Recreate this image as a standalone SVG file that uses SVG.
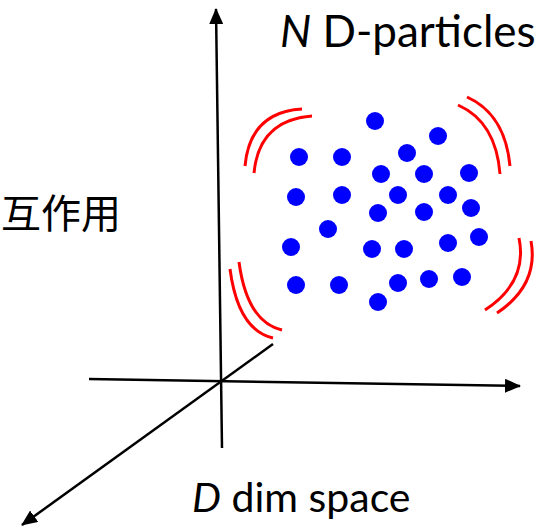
<svg xmlns="http://www.w3.org/2000/svg" width="545" height="529" viewBox="0 0 545 529">
<style>
.axis{stroke:#000;stroke-width:2.5;fill:none}
.arc{stroke:#ff0000;stroke-width:3;fill:none;stroke-linecap:butt}
.dot{fill:#0000ff}
.lbl{font-family:Lato,"Liberation Sans",sans-serif;font-size:44px;fill:#000}
.cjk{font-family:"Noto Sans CJK JP","Noto Sans CJK SC",sans-serif;font-size:40px;fill:#000}
</style>
<defs>
<marker id="ah" markerUnits="userSpaceOnUse" markerWidth="16" markerHeight="14" refX="15" refY="7" orient="auto">
<path d="M0,0 L16,7 L0,14 Z" fill="#000"/>
</marker>
</defs>
<g id="connectors">
<line class="axis" x1="222" y1="448" x2="216" y2="9" marker-end="url(#ah)"/>
<line class="axis" x1="89" y1="379" x2="520" y2="386" marker-end="url(#ah)"/>
<line class="axis" x1="273" y1="344" x2="22" y2="525" marker-end="url(#ah)"/>
</g>
<g id="arcs">
<path class="arc" d="M245,166 Q250,112 302,109"/>
<path class="arc" d="M254,173 Q259,120 312,116"/>
<path class="arc" d="M467,97 Q505,114 510,166"/>
<path class="arc" d="M458,105 Q496,122 500,174"/>
<path class="arc" d="M519,238 Q528,282 485,310"/>
<path class="arc" d="M531,241 Q539,285 497,313"/>
<path class="arc" d="M230,269 Q238,330 273,338"/>
<path class="arc" d="M239,262 Q247,322 282,330"/>
</g>
<g id="particles">
<circle class="dot" cx="375" cy="121" r="9"/>
<circle class="dot" cx="438" cy="136" r="9"/>
<circle class="dot" cx="299" cy="157" r="9"/>
<circle class="dot" cx="342" cy="157" r="9"/>
<circle class="dot" cx="407" cy="153" r="9"/>
<circle class="dot" cx="381" cy="174" r="9"/>
<circle class="dot" cx="424" cy="174" r="9"/>
<circle class="dot" cx="469" cy="173" r="9"/>
<circle class="dot" cx="296" cy="197" r="9"/>
<circle class="dot" cx="342" cy="195" r="9"/>
<circle class="dot" cx="398" cy="195" r="9"/>
<circle class="dot" cx="448" cy="195" r="9"/>
<circle class="dot" cx="378" cy="213" r="9"/>
<circle class="dot" cx="424" cy="212" r="9"/>
<circle class="dot" cx="471" cy="208" r="9"/>
<circle class="dot" cx="328" cy="229" r="9"/>
<circle class="dot" cx="479" cy="237" r="9"/>
<circle class="dot" cx="291" cy="247" r="9"/>
<circle class="dot" cx="372" cy="249" r="9"/>
<circle class="dot" cx="404" cy="249" r="9"/>
<circle class="dot" cx="448" cy="243" r="9"/>
<circle class="dot" cx="296" cy="285" r="9"/>
<circle class="dot" cx="339" cy="285" r="9"/>
<circle class="dot" cx="398" cy="283" r="9"/>
<circle class="dot" cx="429" cy="279" r="9"/>
<circle class="dot" cx="462" cy="277" r="9"/>
<circle class="dot" cx="378" cy="302" r="9"/>
</g>
<g id="label-particles"><text class="lbl" x="280" y="47"><tspan font-style="italic">N</tspan> D-particles</text></g>
<g id="label-space"><text class="lbl" x="192" y="512" style="font-size:41px"><tspan font-style="italic">D</tspan> dim space</text></g>
<g id="label-interaction"><text class="cjk" x="1" y="228">互作用</text></g>
</svg>
